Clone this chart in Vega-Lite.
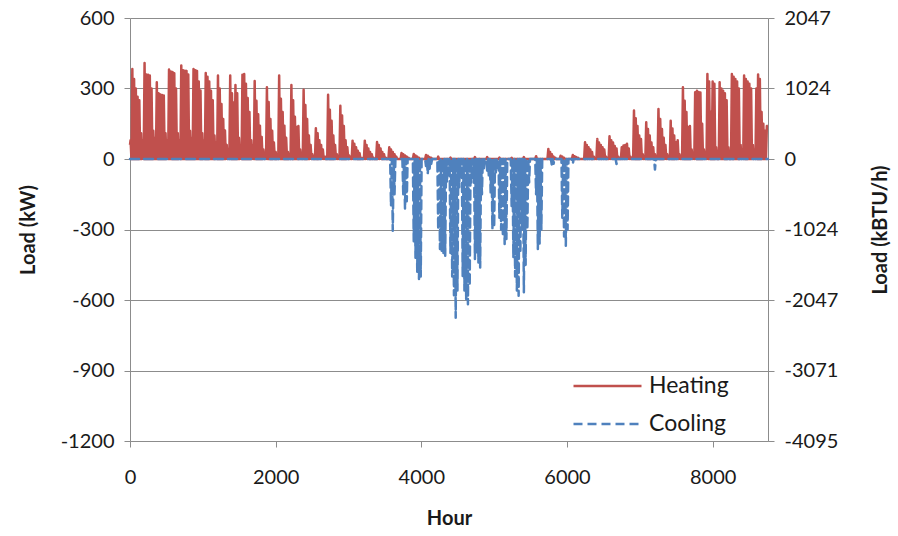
{
"$schema":"https://vega.github.io/schema/vega-lite/v6.json",
"width":638,"height":423,
"autosize":{"type":"none"},
"padding":{"left":130,"top":18,"right":130,"bottom":95},
"background":"white",
"config":{"font":"Lato","view":{"stroke":null},"axis":{"labelFont":"Lato","titleFont":"Lato","labelColor":"#1a1a1a","titleColor":"#1a1a1a"}},
"datasets":{
"heat":[{"h":0,"v":60},{"h":8,"v":80},{"h":20,"v":0},{"h":32,"v":383},{"h":44,"v":0},{"h":56,"v":340},{"h":68,"v":0},{"h":80,"v":300},{"h":92,"v":0},{"h":104,"v":265},{"h":116,"v":0},{"h":128,"v":250},{"h":140,"v":0},{"h":152,"v":110},{"h":164,"v":0},{"h":176,"v":80},{"h":188,"v":0},
{"h":200,"v":408},{"h":212,"v":0},{"h":224,"v":360},{"h":236,"v":0},{"h":248,"v":358},{"h":260,"v":0},{"h":272,"v":355},{"h":284,"v":0},{"h":296,"v":300},{"h":308,"v":0},{"h":320,"v":120},{"h":332,"v":0},{"h":344,"v":90},{"h":356,"v":0},
{"h":368,"v":327},{"h":380,"v":0},{"h":392,"v":280},{"h":404,"v":0},{"h":416,"v":275},{"h":428,"v":0},{"h":440,"v":272},{"h":452,"v":0},{"h":464,"v":270},{"h":476,"v":0},{"h":488,"v":110},{"h":500,"v":0},{"h":512,"v":80},{"h":524,"v":0},
{"h":536,"v":381},{"h":548,"v":0},{"h":560,"v":372},{"h":572,"v":0},{"h":584,"v":370},{"h":596,"v":0},{"h":608,"v":365},{"h":620,"v":0},{"h":632,"v":300},{"h":644,"v":0},{"h":656,"v":110},{"h":668,"v":0},{"h":680,"v":80},{"h":692,"v":0},
{"h":704,"v":398},{"h":716,"v":0},{"h":728,"v":378},{"h":740,"v":0},{"h":752,"v":376},{"h":764,"v":0},{"h":776,"v":375},{"h":788,"v":0},{"h":800,"v":360},{"h":812,"v":0},{"h":824,"v":120},{"h":836,"v":0},{"h":848,"v":90},{"h":860,"v":0},
{"h":872,"v":383},{"h":884,"v":0},{"h":896,"v":378},{"h":908,"v":0},{"h":920,"v":375},{"h":932,"v":0},{"h":944,"v":330},{"h":956,"v":0},{"h":968,"v":291},{"h":980,"v":0},{"h":992,"v":110},{"h":1004,"v":0},{"h":1016,"v":80},{"h":1028,"v":0},
{"h":1040,"v":366},{"h":1052,"v":0},{"h":1064,"v":350},{"h":1076,"v":0},{"h":1088,"v":330},{"h":1100,"v":0},{"h":1112,"v":290},{"h":1124,"v":0},{"h":1136,"v":250},{"h":1148,"v":0},{"h":1160,"v":100},{"h":1172,"v":0},{"h":1184,"v":70},{"h":1196,"v":0},
{"h":1208,"v":355},{"h":1220,"v":0},{"h":1232,"v":300},{"h":1244,"v":0},{"h":1256,"v":234},{"h":1268,"v":0},{"h":1280,"v":170},{"h":1292,"v":0},{"h":1304,"v":121},{"h":1316,"v":0},{"h":1328,"v":60},{"h":1340,"v":0},{"h":1352,"v":40},{"h":1364,"v":0},
{"h":1376,"v":355},{"h":1388,"v":0},{"h":1400,"v":280},{"h":1412,"v":0},{"h":1424,"v":240},{"h":1436,"v":0},{"h":1448,"v":315},{"h":1460,"v":0},{"h":1472,"v":280},{"h":1484,"v":0},{"h":1496,"v":90},{"h":1508,"v":0},{"h":1520,"v":60},{"h":1532,"v":0},
{"h":1544,"v":359},{"h":1556,"v":0},{"h":1568,"v":362},{"h":1580,"v":0},{"h":1592,"v":320},{"h":1604,"v":0},{"h":1616,"v":260},{"h":1628,"v":0},{"h":1640,"v":200},{"h":1652,"v":0},{"h":1664,"v":80},{"h":1676,"v":0},{"h":1688,"v":60},{"h":1700,"v":0},
{"h":1712,"v":332},{"h":1724,"v":0},{"h":1736,"v":248},{"h":1748,"v":0},{"h":1760,"v":190},{"h":1772,"v":0},{"h":1784,"v":142},{"h":1796,"v":0},{"h":1808,"v":94},{"h":1820,"v":0},{"h":1832,"v":40},{"h":1844,"v":0},{"h":1856,"v":20},{"h":1868,"v":0},
{"h":1880,"v":305},{"h":1892,"v":0},{"h":1904,"v":243},{"h":1916,"v":0},{"h":1928,"v":170},{"h":1940,"v":0},{"h":1952,"v":120},{"h":1964,"v":0},{"h":1976,"v":70},{"h":1988,"v":0},{"h":2000,"v":30},{"h":2012,"v":0},{"h":2024,"v":20},{"h":2036,"v":0},
{"h":2048,"v":355},{"h":2060,"v":0},{"h":2072,"v":256},{"h":2084,"v":0},{"h":2096,"v":200},{"h":2108,"v":0},{"h":2120,"v":142},{"h":2132,"v":0},{"h":2144,"v":90},{"h":2156,"v":0},{"h":2168,"v":30},{"h":2180,"v":0},{"h":2192,"v":20},{"h":2204,"v":0},
{"h":2216,"v":315},{"h":2228,"v":0},{"h":2240,"v":250},{"h":2252,"v":0},{"h":2264,"v":180},{"h":2276,"v":0},{"h":2288,"v":136},{"h":2300,"v":0},{"h":2312,"v":140},{"h":2324,"v":0},{"h":2336,"v":40},{"h":2348,"v":0},{"h":2360,"v":20},{"h":2372,"v":0},
{"h":2384,"v":295},{"h":2396,"v":0},{"h":2408,"v":230},{"h":2420,"v":0},{"h":2432,"v":170},{"h":2444,"v":0},{"h":2456,"v":100},{"h":2468,"v":0},{"h":2480,"v":60},{"h":2492,"v":0},{"h":2504,"v":20},{"h":2516,"v":0},{"h":2528,"v":10},{"h":2540,"v":0},
{"h":2552,"v":131},{"h":2564,"v":0},{"h":2576,"v":110},{"h":2588,"v":0},{"h":2600,"v":80},{"h":2612,"v":0},{"h":2624,"v":60},{"h":2636,"v":0},{"h":2648,"v":40},{"h":2660,"v":0},{"h":2672,"v":10},{"h":2684,"v":0},{"h":2696,"v":10},{"h":2708,"v":0},
{"h":2720,"v":273},{"h":2732,"v":0},{"h":2744,"v":210},{"h":2756,"v":0},{"h":2768,"v":163},{"h":2780,"v":0},{"h":2792,"v":100},{"h":2804,"v":0},{"h":2816,"v":60},{"h":2828,"v":0},{"h":2840,"v":20},{"h":2852,"v":0},{"h":2864,"v":10},{"h":2876,"v":0},
{"h":2888,"v":227},{"h":2900,"v":0},{"h":2912,"v":185},{"h":2924,"v":0},{"h":2936,"v":140},{"h":2948,"v":0},{"h":2960,"v":80},{"h":2972,"v":0},{"h":2984,"v":50},{"h":2996,"v":0},{"h":3008,"v":15},{"h":3020,"v":0},{"h":3032,"v":10},{"h":3044,"v":0},
{"h":3056,"v":78},{"h":3068,"v":0},{"h":3080,"v":65},{"h":3092,"v":0},{"h":3104,"v":50},{"h":3116,"v":0},{"h":3128,"v":35},{"h":3140,"v":0},{"h":3152,"v":25},{"h":3164,"v":0},{"h":3176,"v":5},{"h":3188,"v":0},{"h":3200,"v":5},{"h":3212,"v":0},
{"h":3224,"v":78},{"h":3236,"v":0},{"h":3248,"v":60},{"h":3260,"v":0},{"h":3272,"v":45},{"h":3284,"v":0},{"h":3296,"v":30},{"h":3308,"v":0},{"h":3320,"v":20},{"h":3332,"v":0},{"h":3344,"v":5},{"h":3356,"v":0},{"h":3380,"v":0},
{"h":3392,"v":72},{"h":3404,"v":0},{"h":3416,"v":60},{"h":3428,"v":0},{"h":3440,"v":45},{"h":3452,"v":0},{"h":3464,"v":30},{"h":3476,"v":0},{"h":3488,"v":20},{"h":3500,"v":0},{"h":3512,"v":5},{"h":3524,"v":0},{"h":3548,"v":0},
{"h":3560,"v":50},{"h":3572,"v":0},{"h":3584,"v":40},{"h":3596,"v":0},{"h":3608,"v":30},{"h":3620,"v":0},{"h":3632,"v":20},{"h":3644,"v":0},{"h":3656,"v":10},{"h":3668,"v":0},{"h":3716,"v":0},
{"h":3728,"v":26},{"h":3740,"v":0},{"h":3752,"v":20},{"h":3764,"v":0},{"h":3776,"v":15},{"h":3788,"v":0},{"h":3800,"v":10},{"h":3812,"v":0},{"h":3824,"v":5},{"h":3836,"v":0},{"h":3884,"v":0},
{"h":3896,"v":21},{"h":3908,"v":0},{"h":3920,"v":15},{"h":3932,"v":0},{"h":3944,"v":10},{"h":3956,"v":0},{"h":3968,"v":5},{"h":3980,"v":0},{"h":4052,"v":0},
{"h":4064,"v":17},{"h":4076,"v":0},{"h":4088,"v":14},{"h":4100,"v":0},{"h":4112,"v":8},{"h":4124,"v":0},{"h":4136,"v":5},{"h":4148,"v":0},
{"h":4220,"v":0},{"h":4232,"v":10},{"h":4244,"v":0},{"h":4388,"v":0},{"h":4400,"v":6},{"h":4412,"v":0},{"h":4724,"v":0},{"h":4736,"v":8},{"h":4748,"v":0},{"h":4892,"v":0},{"h":4904,"v":8},{"h":4916,"v":0},{"h":5060,"v":0},{"h":5072,"v":6},{"h":5084,"v":0},{"h":5228,"v":0},{"h":5240,"v":5},{"h":5252,"v":0},{"h":5396,"v":0},{"h":5408,"v":8},{"h":5420,"v":0},{"h":5564,"v":0},{"h":5576,"v":12},{"h":5588,"v":0},
{"h":5732,"v":0},{"h":5744,"v":43},{"h":5756,"v":0},{"h":5768,"v":30},{"h":5780,"v":0},{"h":5792,"v":20},{"h":5804,"v":0},{"h":5816,"v":10},{"h":5828,"v":0},{"h":5840,"v":5},{"h":5852,"v":0},
{"h":5900,"v":0},{"h":5912,"v":14},{"h":5924,"v":0},{"h":5936,"v":10},{"h":5948,"v":0},{"h":5960,"v":5},{"h":5972,"v":0},
{"h":6068,"v":0},{"h":6080,"v":17},{"h":6092,"v":0},{"h":6104,"v":12},{"h":6116,"v":0},{"h":6128,"v":8},{"h":6140,"v":0},{"h":6152,"v":5},{"h":6164,"v":0},
{"h":6236,"v":0},{"h":6248,"v":71},{"h":6260,"v":0},{"h":6272,"v":60},{"h":6284,"v":0},{"h":6296,"v":50},{"h":6308,"v":0},{"h":6320,"v":40},{"h":6332,"v":0},{"h":6344,"v":30},{"h":6356,"v":0},{"h":6368,"v":10},{"h":6380,"v":0},{"h":6392,"v":5},{"h":6404,"v":0},
{"h":6416,"v":85},{"h":6428,"v":0},{"h":6440,"v":70},{"h":6452,"v":0},{"h":6464,"v":60},{"h":6476,"v":0},{"h":6488,"v":50},{"h":6500,"v":0},{"h":6512,"v":40},{"h":6524,"v":0},{"h":6536,"v":10},{"h":6548,"v":0},{"h":6560,"v":5},{"h":6572,"v":0},
{"h":6584,"v":97},{"h":6596,"v":0},{"h":6608,"v":80},{"h":6620,"v":0},{"h":6632,"v":70},{"h":6644,"v":0},{"h":6656,"v":55},{"h":6668,"v":0},{"h":6680,"v":45},{"h":6692,"v":0},{"h":6704,"v":10},{"h":6716,"v":0},{"h":6728,"v":5},{"h":6740,"v":0},
{"h":6752,"v":50},{"h":6764,"v":0},{"h":6776,"v":57},{"h":6788,"v":0},{"h":6800,"v":60},{"h":6812,"v":0},{"h":6824,"v":65},{"h":6836,"v":0},{"h":6848,"v":45},{"h":6860,"v":0},{"h":6872,"v":10},{"h":6884,"v":0},{"h":6896,"v":5},{"h":6908,"v":0},
{"h":6920,"v":206},{"h":6932,"v":0},{"h":6944,"v":173},{"h":6956,"v":0},{"h":6968,"v":140},{"h":6980,"v":0},{"h":6992,"v":100},{"h":7004,"v":0},{"h":7016,"v":85},{"h":7028,"v":0},{"h":7040,"v":20},{"h":7052,"v":0},{"h":7064,"v":10},{"h":7076,"v":0},
{"h":7088,"v":156},{"h":7100,"v":0},{"h":7112,"v":128},{"h":7124,"v":0},{"h":7136,"v":100},{"h":7148,"v":0},{"h":7160,"v":70},{"h":7172,"v":0},{"h":7184,"v":50},{"h":7196,"v":0},{"h":7208,"v":20},{"h":7220,"v":0},{"h":7232,"v":10},{"h":7244,"v":0},
{"h":7256,"v":213},{"h":7268,"v":0},{"h":7280,"v":170},{"h":7292,"v":0},{"h":7304,"v":128},{"h":7316,"v":0},{"h":7328,"v":90},{"h":7340,"v":0},{"h":7352,"v":60},{"h":7364,"v":0},{"h":7376,"v":20},{"h":7388,"v":0},{"h":7400,"v":10},{"h":7412,"v":0},
{"h":7424,"v":163},{"h":7436,"v":0},{"h":7448,"v":130},{"h":7460,"v":0},{"h":7472,"v":100},{"h":7484,"v":0},{"h":7496,"v":71},{"h":7508,"v":0},{"h":7520,"v":80},{"h":7532,"v":0},{"h":7544,"v":20},{"h":7556,"v":0},{"h":7568,"v":10},{"h":7580,"v":0},
{"h":7592,"v":305},{"h":7604,"v":0},{"h":7616,"v":248},{"h":7628,"v":0},{"h":7640,"v":200},{"h":7652,"v":0},{"h":7664,"v":136},{"h":7676,"v":0},{"h":7688,"v":140},{"h":7700,"v":0},{"h":7712,"v":40},{"h":7724,"v":0},{"h":7736,"v":20},{"h":7748,"v":0},
{"h":7760,"v":284},{"h":7772,"v":0},{"h":7784,"v":290},{"h":7796,"v":0},{"h":7808,"v":285},{"h":7820,"v":0},{"h":7832,"v":283},{"h":7844,"v":0},{"h":7856,"v":150},{"h":7868,"v":0},{"h":7880,"v":40},{"h":7892,"v":0},{"h":7904,"v":20},{"h":7916,"v":0},
{"h":7928,"v":362},{"h":7940,"v":0},{"h":7952,"v":330},{"h":7964,"v":0},{"h":7976,"v":200},{"h":7988,"v":0},{"h":8000,"v":330},{"h":8012,"v":0},{"h":8024,"v":320},{"h":8036,"v":0},{"h":8048,"v":50},{"h":8060,"v":0},{"h":8072,"v":30},{"h":8084,"v":0},
{"h":8096,"v":327},{"h":8108,"v":0},{"h":8120,"v":300},{"h":8132,"v":0},{"h":8144,"v":290},{"h":8156,"v":0},{"h":8168,"v":280},{"h":8180,"v":0},{"h":8192,"v":250},{"h":8204,"v":0},{"h":8216,"v":50},{"h":8228,"v":0},{"h":8240,"v":30},{"h":8252,"v":0},
{"h":8264,"v":362},{"h":8276,"v":0},{"h":8288,"v":350},{"h":8300,"v":0},{"h":8312,"v":340},{"h":8324,"v":0},{"h":8336,"v":330},{"h":8348,"v":0},{"h":8360,"v":300},{"h":8372,"v":0},{"h":8384,"v":60},{"h":8396,"v":0},{"h":8408,"v":40},{"h":8420,"v":0},
{"h":8432,"v":355},{"h":8444,"v":0},{"h":8456,"v":340},{"h":8468,"v":0},{"h":8480,"v":330},{"h":8492,"v":0},{"h":8504,"v":320},{"h":8516,"v":0},{"h":8528,"v":300},{"h":8540,"v":0},{"h":8552,"v":60},{"h":8564,"v":0},{"h":8576,"v":40},{"h":8588,"v":0},
{"h":8600,"v":300},{"h":8612,"v":0},{"h":8624,"v":360},{"h":8636,"v":0},{"h":8648,"v":340},{"h":8660,"v":0},{"h":8672,"v":200},{"h":8684,"v":0},{"h":8696,"v":150},{"h":8708,"v":0},{"h":8720,"v":120},{"h":8732,"v":0},{"h":8744,"v":140},{"h":8759,"v":140}],
"cool":[{"h":0,"v":0},{"h":3572,"v":0},{"h":3584,"v":-200},{"h":3596,"v":0},{"h":3608,"v":-305},{"h":3620,"v":0},{"h":3632,"v":-150},{"h":3644,"v":0},
{"h":3740,"v":0},{"h":3752,"v":-150},{"h":3764,"v":0},{"h":3776,"v":-213},{"h":3788,"v":0},{"h":3800,"v":-180},{"h":3812,"v":0},
{"h":3884,"v":0},{"h":3896,"v":-350},{"h":3908,"v":0},{"h":3920,"v":-420},{"h":3932,"v":0},{"h":3944,"v":-480},{"h":3956,"v":0},{"h":3968,"v":-511},{"h":3980,"v":0},{"h":3992,"v":-500},{"h":4004,"v":0},
{"h":4052,"v":0},{"h":4064,"v":-30},{"h":4076,"v":0},{"h":4088,"v":-64},{"h":4100,"v":0},{"h":4112,"v":-50},{"h":4124,"v":0},{"h":4136,"v":-20},{"h":4148,"v":0},
{"h":4220,"v":0},{"h":4232,"v":-300},{"h":4244,"v":0},{"h":4256,"v":-383},{"h":4268,"v":0},{"h":4280,"v":-390},{"h":4292,"v":0},{"h":4304,"v":-400},{"h":4316,"v":0},{"h":4328,"v":-412},{"h":4340,"v":0},{"h":4352,"v":-100},{"h":4364,"v":0},{"h":4376,"v":-60},{"h":4388,"v":0},
{"h":4400,"v":-400},{"h":4412,"v":0},{"h":4424,"v":-500},{"h":4436,"v":0},{"h":4448,"v":-580},{"h":4460,"v":0},{"h":4472,"v":-675},{"h":4484,"v":0},{"h":4496,"v":-560},{"h":4508,"v":0},{"h":4520,"v":-120},{"h":4532,"v":0},{"h":4544,"v":-80},{"h":4556,"v":0},
{"h":4568,"v":-500},{"h":4580,"v":0},{"h":4592,"v":-560},{"h":4604,"v":0},{"h":4616,"v":-600},{"h":4628,"v":0},{"h":4640,"v":-618},{"h":4652,"v":0},{"h":4664,"v":-540},{"h":4676,"v":0},{"h":4688,"v":-100},{"h":4700,"v":0},{"h":4712,"v":-80},{"h":4724,"v":0},
{"h":4736,"v":-426},{"h":4748,"v":0},{"h":4760,"v":-400},{"h":4772,"v":0},{"h":4784,"v":-440},{"h":4796,"v":0},{"h":4808,"v":-462},{"h":4820,"v":0},{"h":4832,"v":-150},{"h":4844,"v":0},{"h":4856,"v":-50},{"h":4868,"v":0},
{"h":4892,"v":0},{"h":4904,"v":-50},{"h":4916,"v":0},{"h":4928,"v":-80},{"h":4940,"v":0},{"h":4952,"v":-142},{"h":4964,"v":0},{"h":4976,"v":-298},{"h":4988,"v":0},{"h":5000,"v":-290},{"h":5012,"v":0},{"h":5024,"v":-60},{"h":5036,"v":0},
{"h":5060,"v":0},{"h":5072,"v":-250},{"h":5084,"v":0},{"h":5096,"v":-300},{"h":5108,"v":0},{"h":5120,"v":-330},{"h":5132,"v":0},{"h":5144,"v":-362},{"h":5156,"v":0},{"h":5168,"v":-340},{"h":5180,"v":0},
{"h":5228,"v":0},{"h":5240,"v":-200},{"h":5252,"v":0},{"h":5264,"v":-420},{"h":5276,"v":0},{"h":5288,"v":-500},{"h":5300,"v":0},{"h":5312,"v":-560},{"h":5324,"v":0},{"h":5336,"v":-582},{"h":5348,"v":0},{"h":5360,"v":-400},{"h":5372,"v":0},{"h":5384,"v":-300},{"h":5396,"v":0},
{"h":5408,"v":-567},{"h":5420,"v":0},{"h":5432,"v":-450},{"h":5444,"v":0},{"h":5456,"v":-300},{"h":5468,"v":0},{"h":5480,"v":-100},{"h":5492,"v":0},
{"h":5564,"v":0},{"h":5576,"v":-150},{"h":5588,"v":0},{"h":5600,"v":-383},{"h":5612,"v":0},{"h":5624,"v":-360},{"h":5636,"v":0},{"h":5648,"v":-300},{"h":5660,"v":0},
{"h":5780,"v":0},{"h":5792,"v":-28},{"h":5804,"v":0},{"h":5816,"v":-20},{"h":5828,"v":0},
{"h":5924,"v":0},{"h":5936,"v":-250},{"h":5948,"v":0},{"h":5960,"v":-330},{"h":5972,"v":0},{"h":5984,"v":-369},{"h":5996,"v":0},{"h":6008,"v":-300},{"h":6020,"v":0},
{"h":6068,"v":0},{"h":6080,"v":-20},{"h":6092,"v":0},{"h":6668,"v":0},{"h":6680,"v":-21},{"h":6692,"v":0},{"h":7196,"v":0},{"h":7208,"v":-45},{"h":7220,"v":0},{"h":8759,"v":0}]
},
"encoding":{
"x":{"field":"h","type":"quantitative","scale":{"domain":[0,8760],"nice":false,"zero":false},
"axis":{"values":[0,2000,4000,6000,8000],"labelExpr":"''+datum.value","grid":false,"domainColor":"#8c8c8c","tickColor":"#8c8c8c","tickSize":6,"labelFontSize":20,"labelPadding":20,"labelFlush":false,"labelOverlap":false,"title":"Hour","titleFontSize":20,"titleFontWeight":"bold","titleX":319,"titleY":77,"titleAlign":"center","titleBaseline":"middle"}}
},
"layer":[
{"data":{"name":"heat"},
"mark":{"type":"line","strokeWidth":2.5,"strokeJoin":"round"},
"encoding":{
"y":{"field":"v","type":"quantitative","scale":{"domain":[-1200,600],"nice":false,"zero":false},
"axis":{"orient":"left","values":[-1200,-900,-600,-300,0,300,600],"labelExpr":"''+datum.value","grid":true,"gridColor":"#8c8c8c","gridWidth":1,"domainColor":"#8c8c8c","tickColor":"#8c8c8c","tickSize":6,"labelFontSize":20,"labelPadding":10,"labelOverlap":false,"title":"Load (kW)","titleFontSize":20,"titleFontWeight":"bold","titleX":-102,"titleY":211.5,"titleAngle":270,"titleAlign":"center","titleBaseline":"middle"}},
"color":{"datum":"Heating","type":"nominal","scale":{"domain":["Heating","Cooling"],"range":["#C0504D","#4F81BD"]},
"legend":{"title":null,"orient":"none","legendX":442,"legendY":355,"symbolType":"stroke","symbolSize":4624,"symbolStrokeWidth":2.5,"labelFontSize":23,"labelFont":"Lato","labelColor":"#1a1a1a","labelOffset":6,"clipHeight":26,"rowPadding":12,"padding":0}},
"strokeDash":{"datum":"Heating","type":"nominal","scale":{"domain":["Heating","Cooling"],"range":[[1,0],[9,5]]},
"legend":{"title":null,"orient":"none","legendX":442,"legendY":355,"symbolType":"stroke","symbolSize":4624,"symbolStrokeWidth":2.5,"labelFontSize":23,"labelFont":"Lato","labelColor":"#1a1a1a","labelOffset":6,"clipHeight":26,"rowPadding":12,"padding":0}}
}},
{"data":{"name":"cool"},
"mark":{"type":"line","strokeWidth":2.5,"strokeJoin":"round","strokeCap":"round"},
"encoding":{
"y":{"field":"v","type":"quantitative",
"axis":{"orient":"right","values":[-1200,-900,-600,-300,0,300,600],"labelExpr":"datum.value==600?'2047':datum.value==300?'1024':datum.value==0?'0':datum.value==-300?'-1024':datum.value==-600?'-2047':datum.value==-900?'-3071':'-4095'","grid":false,"domainColor":"#8c8c8c","tickColor":"#8c8c8c","tickSize":6,"labelFontSize":20,"labelPadding":10,"labelOverlap":false,"title":"Load (kBTU/h)","titleFontSize":20,"titleFontWeight":"bold","titleX":112,"titleY":211.5,"titleAngle":270,"titleAlign":"center","titleBaseline":"middle"}},
"color":{"datum":"Cooling","type":"nominal"},
"strokeDash":{"datum":"Cooling","type":"nominal"}
}}
],
"resolve":{"axis":{"y":"independent"}}
}
